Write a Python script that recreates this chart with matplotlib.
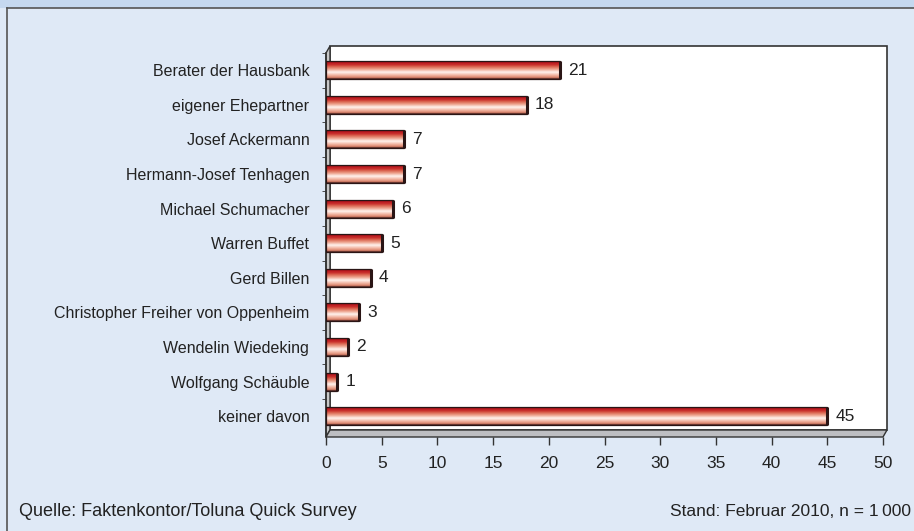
import matplotlib
matplotlib.use("Agg")
import matplotlib.pyplot as plt
import numpy as np
from matplotlib.colors import LinearSegmentedColormap
from matplotlib.patches import Rectangle, Polygon
from matplotlib.lines import Line2D

categories = ["Berater der Hausbank", "eigener Ehepartner", "Josef Ackermann",
              "Hermann-Josef Tenhagen", "Michael Schumacher", "Warren Buffet",
              "Gerd Billen", "Christopher Freiher von Oppenheim",
              "Wendelin Wiedeking", "Wolfgang Schäuble", "keiner davon"]
values = [21, 18, 7, 7, 6, 5, 4, 3, 2, 1, 45]
xticks = [0, 5, 10, 15, 20, 25, 30, 35, 40, 45, 50]
source_text = "Quelle: Faktenkontor/Toluna Quick Survey"
stand_text = "Stand: Februar 2010, n = 1\u2009000"

plt.rcParams['font.family'] = ['Liberation Sans', 'DejaVu Sans']

W, H = 914, 531
fig = plt.figure(figsize=(W / 100, H / 100), dpi=100)
fig.patch.set_facecolor("#dfe9f6")

def fx(x):
    return x / W

def fy(y):
    return 1 - y / H

# top band and borders
fig.add_artist(Rectangle((0, fy(8)), 1, 8 / H, transform=fig.transFigure,
                         facecolor="#c5d8ef", edgecolor="none", zorder=0))
fig.add_artist(Line2D([fx(7), 1], [fy(8), fy(8)], transform=fig.transFigure,
                      color="#555555", lw=1.2))
fig.add_artist(Line2D([fx(7), fx(7)], [fy(8), 0], transform=fig.transFigure,
                      color="#555555", lw=1.2))

# 3D box: back wall, left wall, floor
x0, x1 = 326, 883   # front x range (0..50)
dx, dy = 4, 7       # depth offset
ytop, ybot = 53, 437
fig.add_artist(Rectangle((fx(x0 + dx), fy(ybot - dy)), (x1 - x0) / W, (ybot - ytop) / H,
                         transform=fig.transFigure, facecolor="white",
                         edgecolor="#333333", lw=1.2, zorder=1))
fig.add_artist(Polygon([(fx(x0), fy(ytop)), (fx(x0 + dx), fy(ytop - dy)),
                        (fx(x0 + dx), fy(ybot - dy)), (fx(x0), fy(ybot))],
                       closed=True, transform=fig.transFigure,
                       facecolor="#c8c8c8", edgecolor="#333333", lw=1.0, zorder=1))
fig.add_artist(Polygon([(fx(x0), fy(ybot)), (fx(x0 + dx), fy(ybot - dy)),
                        (fx(x1 + dx), fy(ybot - dy)), (fx(x1), fy(ybot))],
                       closed=True, transform=fig.transFigure,
                       facecolor="#bdbec2", edgecolor="#333333", lw=1.0, zorder=1))

# axes for the bars
n = len(categories)
first_c, last_c = 68, 416
step = (last_c - first_c) / (n - 1)
ylim_bottom = (n - 1) + (ybot - last_c) / step
ylim_top = -(first_c - ytop) / step
ax = fig.add_axes([fx(x0), fy(ybot), (x1 - x0) / W, (ybot - ytop) / H])
ax.set_facecolor("none")
ax.set_zorder(2)
ax.set_xlim(0, 50)
ax.set_ylim(ylim_bottom, ylim_top)
for s in ax.spines.values():
    s.set_visible(False)

cmap = LinearSegmentedColormap.from_list("bar", [
    (0.00, "#3a1010"), (0.06, "#b8141c"), (0.20, "#c9302c"),
    (0.30, "#d9604c"), (0.45, "#eda38d"), (0.62, "#fff3ee"),
    (0.78, "#f3b9a6"), (0.93, "#d98068"), (1.00, "#3a1818")])
grad = np.linspace(0, 1, 64).reshape(-1, 1)
h = 0.52
for i, v in enumerate(values):
    ax.imshow(grad, cmap=cmap, aspect="auto", origin="upper",
              extent=(0, v, i + h / 2, i - h / 2), zorder=3, interpolation="bilinear")
    ax.add_patch(Rectangle((0, i - h / 2), v, h, facecolor="none",
                           edgecolor="#2a1515", lw=0.9, zorder=4))
    ax.plot([v, v], [i - h / 2, i + h / 2], color="#2a1515", lw=2.2, zorder=5,
            solid_capstyle="butt")
    ax.annotate(str(v), (v, i), xytext=(6, 0), textcoords="offset points",
                va="center", ha="left", fontsize=12.5, color="#222222")

ax.set_yticks(range(n))
ax.set_yticklabels(categories, fontsize=11.5, color="#222222")
ax.tick_params(axis="y", length=0, pad=12)
ax.set_yticks([i + 0.5 for i in range(-1, n - 1)], minor=True)
ax.tick_params(axis="y", which="minor", length=3, color="#333333")
ax.set_xticks(xticks)
ax.set_xticklabels([str(t) for t in xticks], fontsize=12.5, color="#222222")
ax.tick_params(axis="x", length=6, width=1, color="#333333", pad=8)
ax.xaxis.set_ticks_position("bottom")
ax.spines["left"].set_visible(True)
ax.spines["left"].set_color("#333333")
ax.spines["left"].set_linewidth(1.2)

fig.text(fx(19), fy(511), source_text, fontsize=13, color="#222222", va="center", ha="left")
fig.text(fx(911), fy(511), stand_text, fontsize=12.5, color="#222222", va="center", ha="right")

fig.savefig("out.png", dpi=100, facecolor=fig.get_facecolor())
